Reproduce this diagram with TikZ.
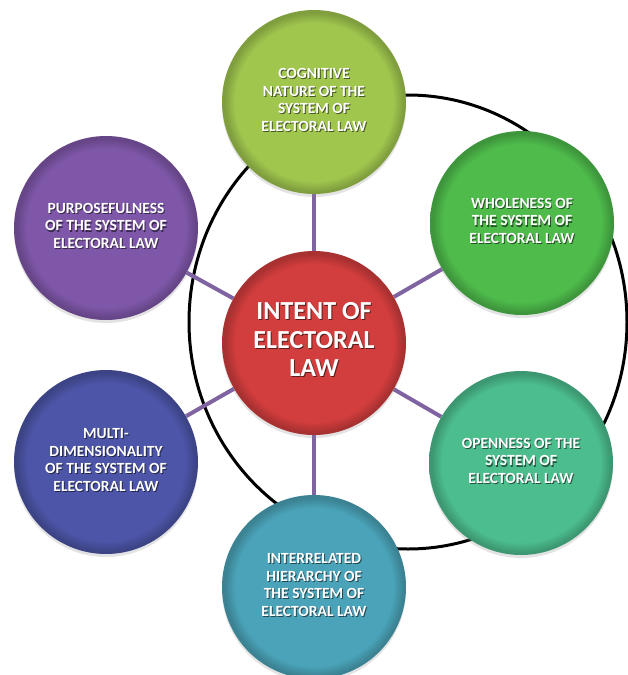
\documentclass[tikz,border=0pt]{standalone}
\usepackage{fontspec}
\setmainfont{Carlito}
\usetikzlibrary{shadows,backgrounds}
\definecolor{cogngreen}{HTML}{A0C64E}
\definecolor{wholegreen}{HTML}{4EBB4B}
\definecolor{opengreen}{HTML}{4CBE8E}
\definecolor{hierteal}{HTML}{4AA3B8}
\definecolor{multiblue}{HTML}{4C55A7}
\definecolor{purpviolet}{HTML}{7F57A9}
\definecolor{intentred}{HTML}{D23D3D}
\definecolor{spokeviolet}{HTML}{8064A2}
\colorlet{ballcol}{gray}
\colorlet{rimcol}{gray}
% flat face with a darker bevelled rim
\pgfdeclareradialshading[ballcol,rimcol]{bevel}{\pgfpoint{0bp}{0bp}}{
  color(0bp)=(ballcol); color(21.5bp)=(ballcol); color(24.3bp)=(rimcol);
  color(25bp)=(rimcol); color(50bp)=(rimcol)}
% white lines over a dark offset copy
\newcommand\shtext[1]{%
  \rlap{\kern1pt\raisebox{-1.2pt}{\color{ballcol!45!black}%
    \begin{tabular}{@{}c@{}}#1\end{tabular}}}%
  \begin{tabular}{@{}c@{}}#1\end{tabular}}
\tikzset{
  ball/.style={circle,minimum size=184pt,inner sep=0pt,shading=bevel,
    /utils/exec={\colorlet{ballcol}{#1}\colorlet{rimcol}{#1!80!black}},
    drop shadow={shadow xshift=0pt,shadow yshift=-3pt,opacity=0.22},
    text=white,font=\fontsize{15.5}{17.5}\selectfont\bfseries},
  hub/.style={ball=#1,font=\fontsize{26}{28.5}\selectfont\bfseries},
  spoke/.style={draw=spokeviolet,line width=4pt},
  ring/.style={draw=black,line width=3pt},
}
\begin{document}
\begin{tikzpicture}[x=1pt,y=-1pt]
  \useasboundingbox (0,0) rectangle (627,675);
  \node[hub=intentred] (intent) at (314,343) {\shtext{INTENT OF\\ELECTORAL\\LAW}};
  \node[ball=cogngreen] (cognitive) at (314,102)
    {\shtext{COGNITIVE\\NATURE OF THE\\SYSTEM OF\\ELECTORAL LAW}};
  \node[ball=wholegreen] (wholeness) at (522,223)
    {\shtext{WHOLENESS OF\\THE SYSTEM OF\\ELECTORAL LAW}};
  \node[ball=opengreen] (openness) at (521,463)
    {\shtext{OPENNESS OF THE\\SYSTEM OF\\ELECTORAL LAW}};
  \node[ball=hierteal] (hierarchy) at (314,587)
    {\shtext{INTERRELATED\\HIERARCHY OF\\THE SYSTEM OF\\ELECTORAL LAW}};
  \node[ball=multiblue] (multidim) at (106,462)
    {\shtext{MULTI-\\DIMENSIONALITY\\OF THE SYSTEM OF\\ELECTORAL LAW}};
  \node[ball=purpviolet] (purpose) at (106,228)
    {\shtext{PURPOSEFULNESS\\OF THE SYSTEM OF\\ELECTORAL LAW}};
  \begin{scope}[on background layer]
    \fill[white] (0,0) rectangle (627,675);
    \draw[ring] (408,322) ellipse [x radius=219pt,y radius=227pt];
    \draw[spoke] (intent) -- (cognitive);
    \draw[spoke] (intent) -- (wholeness);
    \draw[spoke] (intent) -- (openness);
    \draw[spoke] (intent) -- (hierarchy);
    \draw[spoke] (intent) -- (multidim);
    \draw[spoke] (intent) -- (purpose);
  \end{scope}
\end{tikzpicture}
\end{document}
